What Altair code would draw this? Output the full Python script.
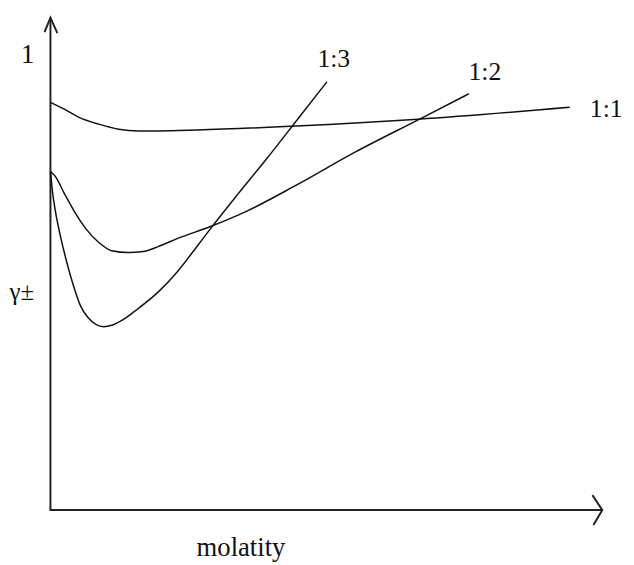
import altair as alt
import pandas as pd

# ---- data (molality, mean activity coefficient γ±) ----
m_11 = [0, 0.14, 0.29, 0.49, 0.69, 0.89, 1.09, 1.49, 2.49, 3.72, 5.26]
g_11 = [0.896, 0.881, 0.863, 0.848, 0.837, 0.833, 0.833, 0.835, 0.844, 0.859, 0.885]

m_12 = [0, 0.05, 0.14, 0.24, 0.36, 0.49, 0.62, 0.79, 0.94, 1.09, 1.29, 1.62, 1.99, 2.49, 3.09, 3.72, 4.24]
g_12 = [0.744, 0.733, 0.696, 0.657, 0.618, 0.588, 0.570, 0.566, 0.568, 0.579, 0.597, 0.623, 0.657, 0.714, 0.787, 0.857, 0.915]

m_13 = [0, 0.02, 0.05, 0.10, 0.16, 0.23, 0.30, 0.38, 0.46, 0.54, 0.62, 0.74, 0.89, 1.09, 1.29, 1.49, 1.62, 1.89, 2.19, 2.49, 2.80]
g_13 = [0.744, 0.701, 0.657, 0.603, 0.549, 0.495, 0.451, 0.423, 0.408, 0.403, 0.406, 0.419, 0.443, 0.479, 0.525, 0.581, 0.618, 0.692, 0.772, 0.855, 0.941]

# axes drawn as a path with arrow heads
axis_m = [0, 0, 5.59]
axis_g = [1.082, 0, 0]
yarrow_m = [-0.06, 0, 0.07]
yarrow_g = [1.050, 1.082, 1.048]
xarrow_m = [5.49, 5.59, 5.50]
xarrow_g = [0.033, 0, -0.033]

label_text = ["1:3", "1:2", "1:1", "1", "molatity", "γ±"]
label_m = [2.87, 4.40, 5.63, -0.23, 1.93, -0.29]
label_g = [0.991, 0.963, 0.881, 1.000, -0.101, 0.480]
label_size = [26, 26, 26, 27, 27, 25]
label_base = ["middle", "middle", "middle", "middle", "alphabetic", "middle"]

# ---- tables ----
rows = []
for name, ms, gs in [("1:1", m_11, g_11), ("1:2", m_12, g_12), ("1:3", m_13, g_13)]:
    for i, (m, g) in enumerate(zip(ms, gs)):
        rows.append({"series": name, "m": m, "g": g, "order": i})
curves = pd.DataFrame(rows)

arows = []
for name, ms, gs in [("axis", axis_m, axis_g), ("yarrow", yarrow_m, yarrow_g), ("xarrow", xarrow_m, xarrow_g)]:
    for i, (m, g) in enumerate(zip(ms, gs)):
        arows.append({"part": name, "m": m, "g": g, "order": i})
axes = pd.DataFrame(arows)

labels = pd.DataFrame({"text": label_text, "m": label_m, "g": label_g,
                       "size": label_size, "base": label_base})

W, H = 626, 557
xs = alt.Scale(domain=[-0.43, 5.83], nice=False, zero=False)
ys = alt.Scale(domain=[-0.1128, 1.0954], nice=False, zero=False)

curve_layer = alt.Chart(curves).mark_line(color="#111111", strokeWidth=1.5, interpolate="monotone").encode(
    x=alt.X("m:Q", scale=xs, axis=None),
    y=alt.Y("g:Q", scale=ys, axis=None),
    detail="series:N",
    order="order:Q",
)

axis_layer = alt.Chart(axes).mark_line(color="#222222", strokeWidth=2).encode(
    x=alt.X("m:Q", scale=xs, axis=None),
    y=alt.Y("g:Q", scale=ys, axis=None),
    detail="part:N",
    order="order:Q",
)

def text_layer(base):
    return alt.Chart(labels).transform_filter(alt.datum.base == base).mark_text(
        font="Liberation Serif", color="#111111", align="center", baseline=base
    ).encode(
        x=alt.X("m:Q", scale=xs, axis=None),
        y=alt.Y("g:Q", scale=ys, axis=None),
        text="text:N",
        size=alt.Size("size:Q", scale=None, legend=None),
    )

chart = (axis_layer + curve_layer + text_layer("middle") + text_layer("alphabetic")).properties(
    width=W, height=H, padding=0, autosize=alt.AutoSizeParams(type="none")
).configure_view(stroke=None)

chart.save("out.html", embed_options={"renderer": "svg", "actions": False})
